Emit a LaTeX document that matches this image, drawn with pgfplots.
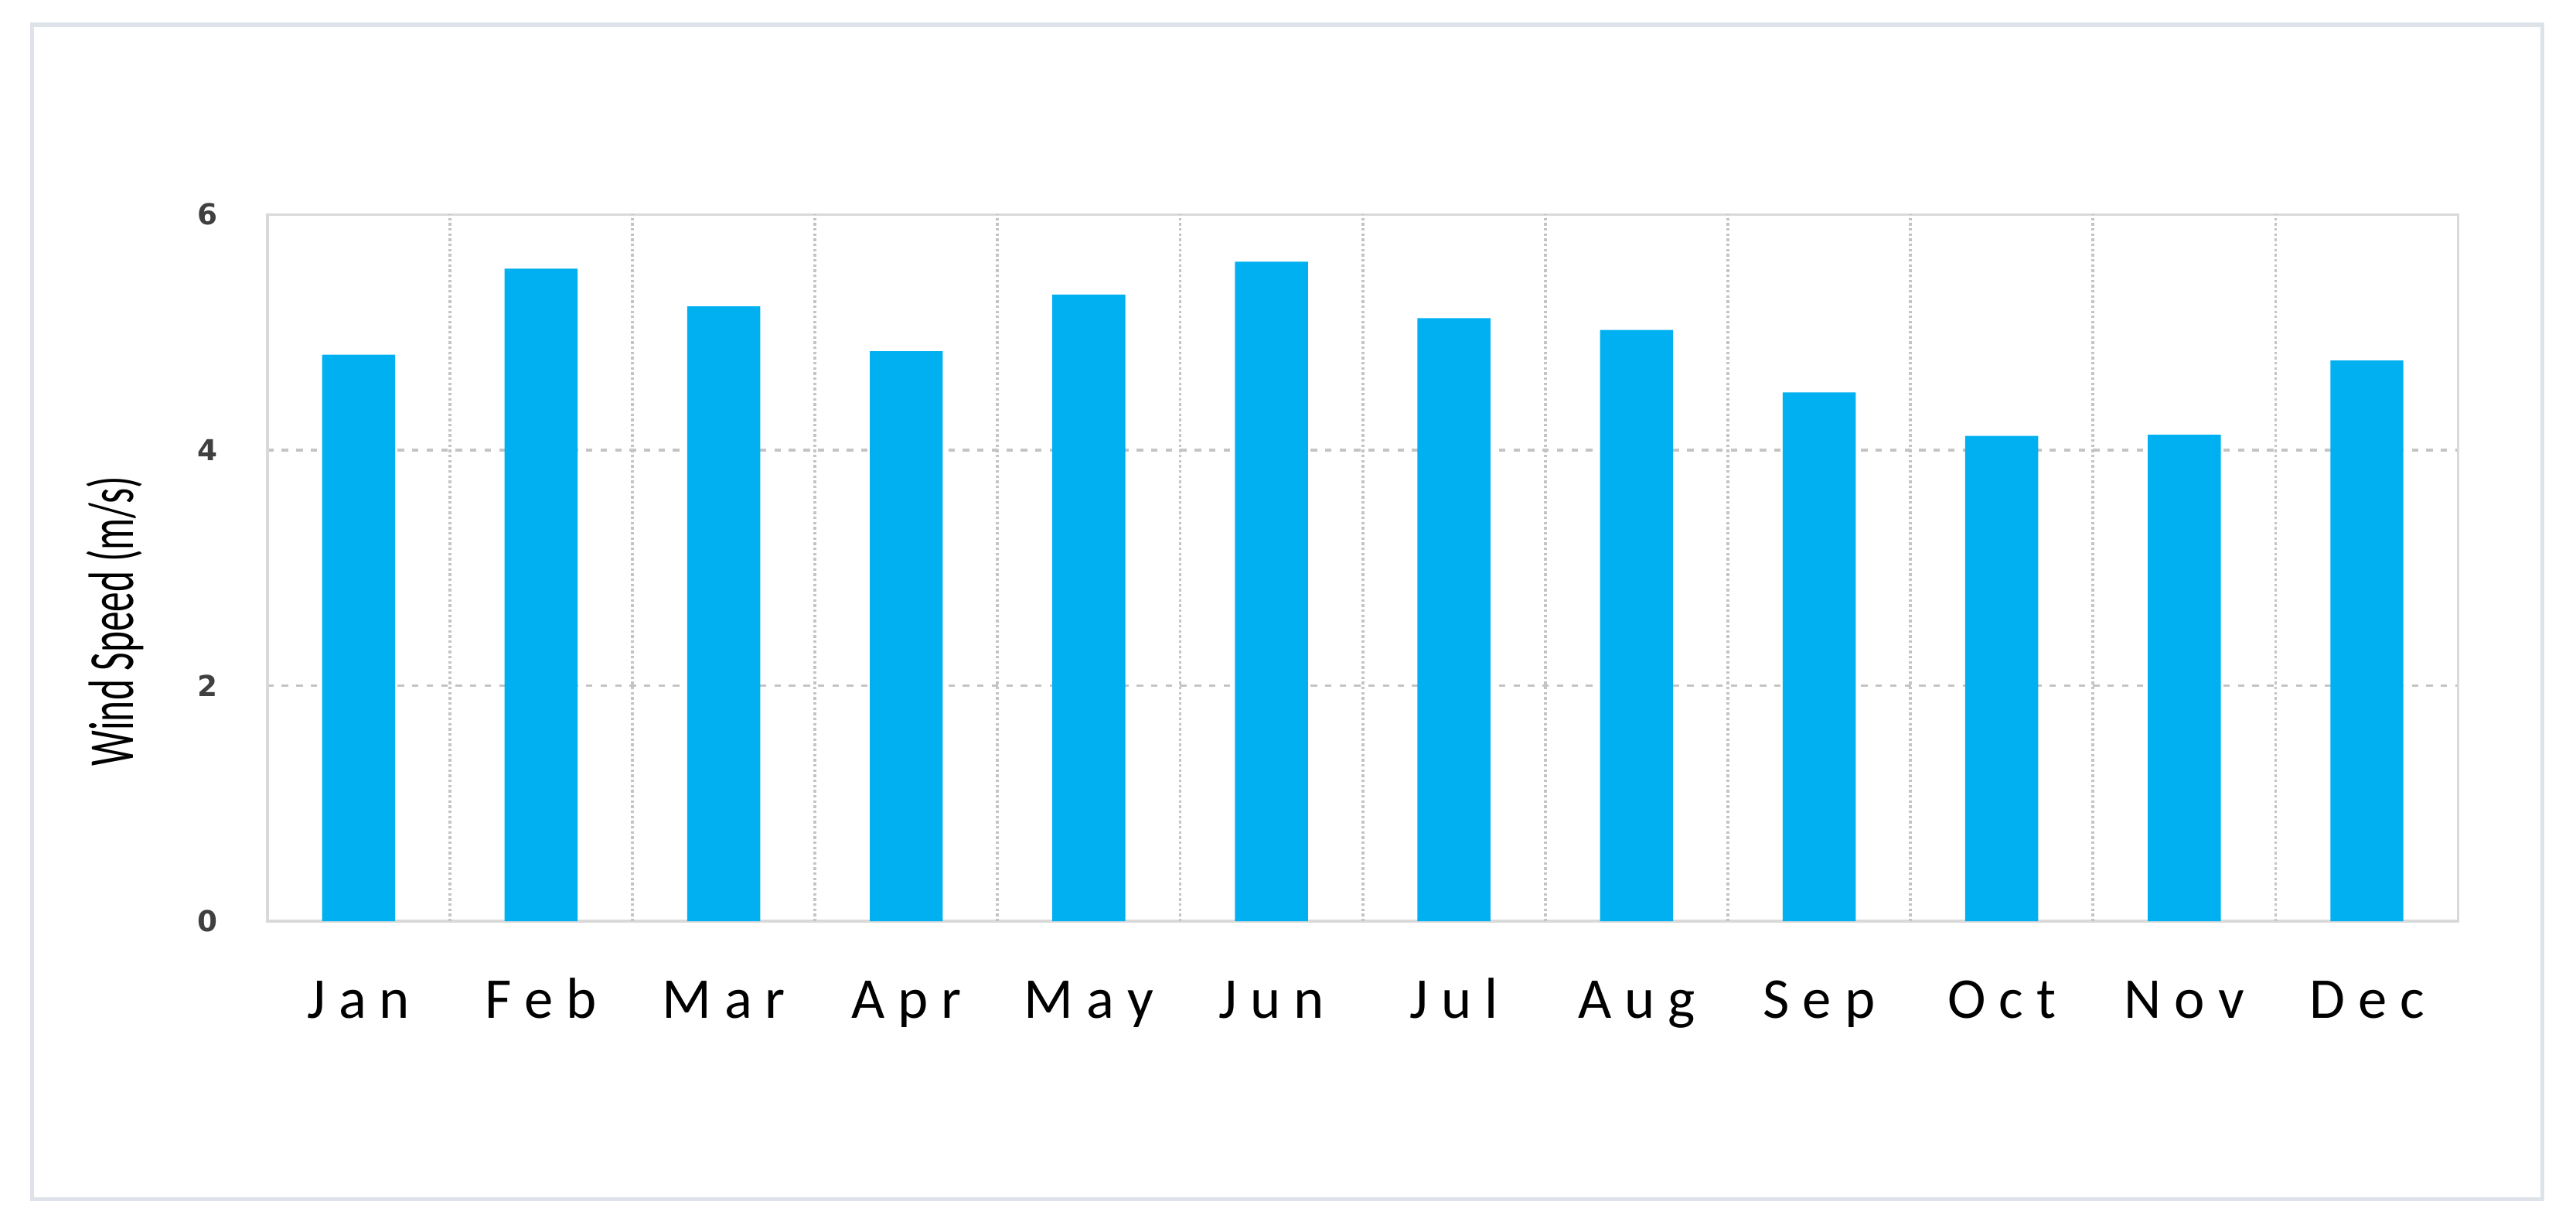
\documentclass[border=0pt]{standalone}
\usepackage{pgfplots}
\pgfplotsset{compat=1.18}
\usepackage{fontspec}
\setmainfont{Carlito}
\newfontfamily\tickfont{DejaVu Sans}
\newfontfamily\ylabfont[FakeStretch=0.62]{Carlito}
\definecolor{barblue}{HTML}{00B0F0}
\definecolor{framec}{HTML}{DEE3E9}
\definecolor{gridc}{HTML}{C4C4C4}
\definecolor{axc}{HTML}{D9D9D9}
\definecolor{tickc}{HTML}{404040}
\begin{document}
\begin{tikzpicture}
\path (0,0) rectangle (800bp,379.2bp);
\draw[framec, line width=1.3bp] (10bp,7bp) rectangle (789.6bp,371.5bp);
\begin{axis}[at={(83bp,93.2bp)}, anchor=south west, scale only axis,
  width=680.4bp, height=219.4bp,
  xmin=-0.5, xmax=11.5, ymin=0, ymax=6,
  xtick={0,...,11},
  xticklabels={J a n, F e b, M a r, A p r, M a y, J u n, J u l, A u g, S e p, O c t, N o v, D e c},
  ytick={0,2,4,6},
  /pgf/number format/assume math mode=true,
  major tick length=0,
  axis line style={axc, line width=0.9bp},
  ymajorgrids,
  grid style={gridc, dash pattern=on 2bp off 2.5bp, line width=0.8bp},
  extra x ticks={0.5,1.5,...,10.5},
  extra x tick labels={},
  extra x tick style={grid=major, major grid style={gridc, dash pattern=on 0.8bp off 0.8bp, line width=0.9bp}},
  yticklabel style={font=\tickfont\bfseries\fontsize{9}{10}\selectfont, text=tickc, xshift=-12bp},
  xticklabel style={font=\fontsize{18}{20}\selectfont, anchor=base, yshift=-30bp},
  clip=false]
\addplot[ybar, bar width=0.4, fill=barblue, draw=none] coordinates {
(0,4.81) (1,5.54) (2,5.22) (3,4.84) (4,5.32) (5,5.60)
(6,5.12) (7,5.02) (8,4.49) (9,4.12) (10,4.13) (11,4.76)};
\end{axis}
\node[rotate=90, font=\ylabfont\fontsize{20}{22}\selectfont] at (35.7bp,186.4bp) {Wind Speed (m/s)};
\end{tikzpicture}
\end{document}
